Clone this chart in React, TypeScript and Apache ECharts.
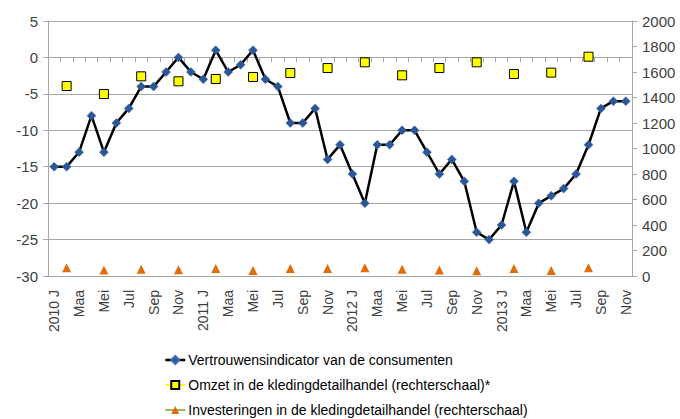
import React, { useEffect, useRef } from "react";
import * as echarts from "echarts";

const categories = [
  "2010 J", "F", "Maa", "A", "Mei", "Jun", "Jul", "Aug", "Sep", "Okt", "Nov", "Dec",
  "2011 J", "F", "Maa", "A", "Mei", "Jun", "Jul", "Aug", "Sep", "Okt", "Nov", "Dec",
  "2012 J", "F", "Maa", "A", "Mei", "Jun", "Jul", "Aug", "Sep", "Okt", "Nov", "Dec",
  "2013 J", "F", "Maa", "A", "Mei", "Jun", "Jul", "Aug", "Sep", "Okt", "Nov",
];

const vertrouwen = [
  -15, -15, -13, -8, -13, -9, -7, -4, -4, -2, 0, -2,
  -3, 1, -2, -1, 1, -3, -4, -9, -9, -7, -14, -12,
  -16, -20, -12, -12, -10, -10, -13, -16, -14, -17, -24, -25,
  -23, -17, -24, -20, -19, -18, -16, -12, -7, -6, -6,
];

const omzet = [
  null, 1490, null, null, 1427, null, null, 1566, null, null, 1527, null,
  null, 1545, null, null, 1561, null, null, 1592, null, null, 1631, null,
  null, 1676, null, null, 1574, null, null, 1631, null, null, 1676, null,
  null, 1584, null, null, 1595, null, null, 1720, null, null, null,
];

const investeringen = [
  null, 65, null, null, 47, null, null, 52, null, null, 50, null,
  null, 58, null, null, 44, null, null, 58, null, null, 58, null,
  null, 65, null, null, 52, null, null, 47, null, null, 42, null,
  null, 58, null, null, 44, null, null, 65, null, null, null,
];

const leftTicks = { min: -30, max: 5, interval: 5 };
const rightTicks = { min: 0, max: 2000, interval: 200 };

const names = [
  "Vertrouwensindicator van de consumenten",
  "Omzet in de kledingdetailhandel (rechterschaal)*",
  "Investeringen in de kledingdetailhandel (rechterschaal)",
];

const FONT = "'Liberation Sans Narrow', 'Arial Narrow', 'Liberation Sans', Arial, sans-serif";
const TXT = "#404040";
const GRID = "#a6a6a6";

export default function App() {
  const ref = useRef<HTMLDivElement>(null);
  useEffect(() => {
    if (!ref.current) return;
    const chart = echarts.init(ref.current, null, { renderer: "svg" });
    chart.setOption({
      animation: false,
      textStyle: { fontFamily: FONT },
      grid: { left: 48, right: 48, top: 21, bottom: 143, containLabel: false },
      legend: {
        orient: "vertical",
        left: 164,
        top: 353,
        height: 80,
        padding: 0,
        itemGap: 11,
        itemWidth: 20,
        itemHeight: 10,
        textStyle: { fontFamily: FONT, fontSize: 14, color: "#000", padding: [0, 0, 0, -2] },
        data: [
          { name: names[0], lineStyle: { color: "#000", width: 2.5, opacity: 1 } },
          { name: names[1], lineStyle: { color: "#ffff00", width: 2, opacity: 1 } },
          { name: names[2], lineStyle: { color: "#9bbb59", width: 2, opacity: 1 } },
        ],
      },
      xAxis: [
        {
          type: "category",
          data: categories,
          boundaryGap: true,
          axisLine: { show: false, onZero: false },
          axisTick: { show: false },
          splitLine: { show: false },
          axisLabel: {
            interval: 1,
            rotate: 90,
            margin: 14,
            fontFamily: FONT,
            fontSize: 14,
            color: TXT,
          },
        },
        {
          type: "category",
          data: categories,
          position: "bottom",
          boundaryGap: true,
          axisLine: { show: true, onZero: true, onZeroAxisIndex: 0, lineStyle: { color: GRID, width: 1 } },
          axisTick: { show: true, interval: 0, length: 5, inside: false, lineStyle: { color: GRID } },
          axisLabel: { show: false },
          splitLine: { show: false },
        },
      ],
      yAxis: [
        {
          type: "value",
          position: "left",
          ...leftTicks,
          axisLine: { show: true, lineStyle: { color: GRID } },
          axisTick: { show: true, length: 5, lineStyle: { color: GRID } },
          splitLine: { show: true, lineStyle: { color: GRID, width: 1 } },
          axisLabel: { fontFamily: FONT, fontSize: 15, color: TXT, margin: 10 },
        },
        {
          type: "value",
          position: "right",
          ...rightTicks,
          axisLine: { show: true, lineStyle: { color: GRID } },
          axisTick: { show: true, length: 5, lineStyle: { color: GRID } },
          splitLine: { show: false },
          axisLabel: {
            fontFamily: FONT,
            fontSize: 15,
            color: TXT,
            margin: 10,
            formatter: (v: number) => String(v),
          },
        },
      ],
      series: [
        {
          name: names[0],
          type: "line",
          xAxisIndex: 0,
          yAxisIndex: 0,
          data: vertrouwen,
          symbol: "diamond",
          symbolSize: 9,
          showAllSymbol: true,
          lineStyle: { color: "#000", width: 2.5 },
          itemStyle: { color: "#2b5797", borderColor: "#3a6cb0", borderWidth: 0.5 },
          z: 3,
        },
        {
          name: names[1],
          type: "line",
          xAxisIndex: 0,
          yAxisIndex: 1,
          data: omzet,
          connectNulls: false,
          showAllSymbol: true,
          symbol: "rect",
          symbolSize: 9,
          lineStyle: { width: 0, opacity: 0 },
          itemStyle: { color: "#ffff00", borderColor: "#000", borderWidth: 1 },
          z: 4,
        },
        {
          name: names[2],
          type: "line",
          xAxisIndex: 0,
          yAxisIndex: 1,
          data: investeringen,
          showAllSymbol: true,
          symbol: "triangle",
          symbolSize: 9,
          lineStyle: { width: 0, opacity: 0 },
          itemStyle: { color: "#e36c0a" },
          z: 4,
        },
      ],
    });
    return () => chart.dispose();
  }, []);
  return <div ref={ref} style={{ width: 680, height: 419, position: "absolute", left: 0, top: 0 }} />;
}
